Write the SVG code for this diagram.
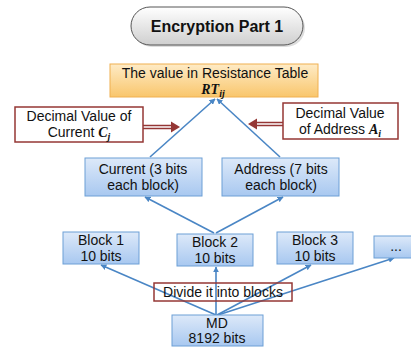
<svg xmlns="http://www.w3.org/2000/svg" width="411" height="348" viewBox="0 0 411 348">
<defs>
<linearGradient id="gBlue" x1="0" y1="0" x2="0" y2="1"><stop offset="0" stop-color="#dde9f9"/><stop offset="1" stop-color="#a8c8f0"/></linearGradient>
<linearGradient id="gOrange" x1="0" y1="0" x2="0" y2="1"><stop offset="0" stop-color="#feebc6"/><stop offset="1" stop-color="#f9c66c"/></linearGradient>
<linearGradient id="gGray" x1="0" y1="0" x2="0" y2="1"><stop offset="0" stop-color="#ffffff"/><stop offset="1" stop-color="#cfcfcf"/></linearGradient>
<marker id="ah" viewBox="0 0 10 10" refX="9" refY="5" markerWidth="6" markerHeight="6" markerUnits="userSpaceOnUse" orient="auto"><path d="M0,0 L10,5 L0,10 z" fill="#4a86c5"/></marker>
</defs>
<style>
.t{font-family:"Liberation Sans",Arial,sans-serif;font-size:14px;fill:#111;text-anchor:middle}
.m{font-family:"Liberation Serif","Times New Roman",serif;font-weight:bold;font-style:italic;fill:#111}
.blue{fill:url(#gBlue);stroke:#6c9fd6;stroke-width:1}
.red{fill:#fff;stroke:#953735;stroke-width:1.5}
.c{stroke:#4a86c5;stroke-width:1.6;fill:none;marker-end:url(#ah)}
</style>
<g id="connectors">
<line class="c" x1="150" y1="157" x2="215" y2="99"/>
<line class="c" x1="280" y1="157" x2="217" y2="99"/>
<line class="c" x1="214" y1="233" x2="145" y2="197"/>
<line class="c" x1="216" y1="233" x2="283" y2="197"/>
<line class="c" x1="216" y1="315" x2="101" y2="265"/>
<line class="c" x1="216" y1="315" x2="216" y2="267"/>
<line class="c" x1="217" y1="315" x2="311" y2="265"/>
<line class="c" x1="218" y1="315" x2="394" y2="258"/>
<g id="dbl-left">
<line x1="143" y1="127" x2="172" y2="127" stroke="#953735" stroke-width="4.5"/>
<line x1="143" y1="127" x2="172" y2="127" stroke="#ffffff" stroke-width="1.5"/>
<path d="M171,121.5 L180,127 L171,132.5 z" fill="#953735"/>
</g>
<g id="dbl-right">
<line x1="283" y1="124" x2="256" y2="124" stroke="#953735" stroke-width="4.5"/>
<line x1="283" y1="124" x2="256" y2="124" stroke="#ffffff" stroke-width="1.5"/>
<path d="M257,118.5 L248,124 L257,129.5 z" fill="#953735"/>
</g>
</g>
<g id="title">
<rect x="133" y="9" width="172" height="38" rx="19" fill="#bbb" opacity="0.5"/>
<rect x="131" y="7" width="172" height="38" rx="19" fill="url(#gGray)" stroke="#555" stroke-width="1"/>
<text x="217" y="32" style="font-family:'Liberation Sans',Arial,sans-serif;font-size:16px;font-weight:bold;text-anchor:middle;fill:#111">Encryption Part 1</text>
</g>
<g id="rt">
<rect x="110" y="64" width="208" height="33" fill="url(#gOrange)" stroke="#f0b050" stroke-width="1"/>
<text class="t" x="215" y="78">The value in Resistance Table</text>
<text class="m" x="213" y="94" text-anchor="middle" font-size="14">RT<tspan font-size="10" dy="3">ij</tspan></text>
</g>
<g id="dec-current">
<rect class="red" x="15" y="107" width="128" height="35"/>
<text class="t" x="79" y="121">Decimal Value of</text>
<text class="t" x="79" y="137">Current <tspan class="m" font-size="14">C</tspan><tspan class="m" font-size="10" dy="3">j</tspan></text>
</g>
<g id="dec-address">
<rect class="red" x="283" y="103" width="115" height="36"/>
<text class="t" x="340" y="118">Decimal Value</text>
<text class="t" x="340" y="134">of Address <tspan class="m" font-size="14">A</tspan><tspan class="m" font-size="10" dy="3">i</tspan></text>
</g>
<g id="current">
<rect class="blue" x="85" y="158" width="117" height="38"/>
<text class="t" x="143" y="174">Current (3 bits</text>
<text class="t" x="143" y="190">each block)</text>
</g>
<g id="address">
<rect class="blue" x="222" y="158" width="117" height="38"/>
<text class="t" x="281" y="174">Address (7 bits</text>
<text class="t" x="281" y="190">each block)</text>
</g>
<g id="block1">
<rect class="blue" x="63" y="232" width="76" height="32"/>
<text class="t" x="101" y="245">Block 1</text>
<text class="t" x="101" y="261">10 bits</text>
</g>
<g id="block2">
<rect class="blue" x="177" y="234" width="76" height="32"/>
<text class="t" x="215" y="247">Block 2</text>
<text class="t" x="215" y="263">10 bits</text>
</g>
<g id="block3">
<rect class="blue" x="277" y="232" width="76" height="32"/>
<text class="t" x="315" y="245">Block 3</text>
<text class="t" x="315" y="261">10 bits</text>
</g>
<g id="more">
<rect class="blue" x="374" y="236" width="45" height="22"/>
<text class="t" x="396" y="251">...</text>
</g>
<g id="divide">
<rect class="red" x="154" y="283" width="138" height="18" fill-opacity="0"/>
<text class="t" x="223" y="297">Divide it into blocks</text>
</g>
<g id="md">
<rect class="blue" x="172" y="315" width="91" height="31"/>
<text class="t" x="217" y="328">MD</text>
<text class="t" x="217" y="343">8192 bits</text>
</g>
</svg>
